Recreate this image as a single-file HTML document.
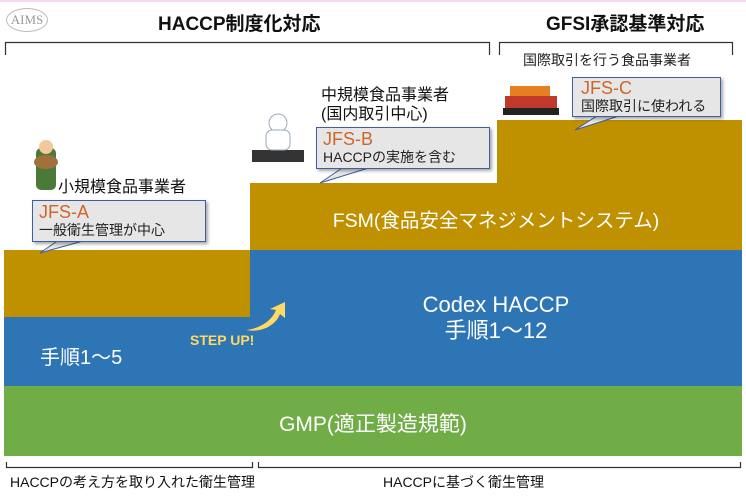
<!DOCTYPE html>
<html><head><meta charset="utf-8"><style>
body{margin:0;width:746px;height:497px;background:#fff;position:relative;overflow:hidden;font-family:"Liberation Sans","Noto Sans CJK JP",sans-serif;}
.a{position:absolute;white-space:nowrap;}
.box{position:absolute;background:#e6e6e6;border:1px solid #3f5f9f;box-shadow:2px 2px 3px rgba(0,0,0,.35);}
.j{color:#d0652a;font-size:18px;line-height:19px;}
.s{color:#222;font-size:14px;line-height:16px;}
</style></head><body>
<div class="a" style="left:0;top:0;width:746px;height:2px;background:#f6d6f2"></div>
<div class="a" style="left:6px;top:8px;width:40px;height:22px;border:1px solid #bbb;border-radius:50%;color:#999;font-family:'Liberation Serif',serif;font-size:13px;text-align:center;line-height:22px">AIMS</div>
<div class="a" style="left:158px;top:9px;font-size:19px;font-weight:bold;color:#111">HACCP制度化対応</div>
<div class="a" style="left:546px;top:9px;font-size:19px;font-weight:bold;color:#111">GFSI承認基準対応</div>
<svg class="a" style="left:0;top:0" width="746" height="497">
<path d="M5.5,55 V42.5 H489.5 V55" fill="none" stroke="#333" stroke-width="1.2"/>
<path d="M499.5,55 V42.5 H732.5 V55" fill="none" stroke="#333" stroke-width="1.2"/>
<path d="M6.5,462 V467.5 H252.5 V462" fill="none" stroke="#333" stroke-width="1.2"/>
<path d="M258.5,462 V467.5 H740.5 V462" fill="none" stroke="#333" stroke-width="1.2"/>
<rect x="4" y="250" width="246" height="67" fill="#bf9000"/>
<rect x="4" y="317" width="246" height="69" fill="#2e75b6"/>
<rect x="250" y="250" width="492" height="136" fill="#2e75b6"/>
<rect x="250" y="183" width="492" height="67" fill="#bf9000"/>
<rect x="497" y="120" width="245" height="63" fill="#bf9000"/>
<rect x="4" y="386" width="738" height="70" fill="#70ad47"/>
<path d="M246,330 C262,328 272,320 276,310 L270,309 L285,302 L285,318 L280,314 C276,325 262,333 246,330Z" fill="#ffd966"/>
<polygon points="60,239 40,253 90,239" fill="#e6e6e6" stroke="#3f5f9f"/>
<polygon points="345,166 320,183 375,166" fill="#e6e6e6" stroke="#3f5f9f"/>
<polygon points="600,114 575,130 625,114" fill="#e6e6e6" stroke="#3f5f9f"/>
<rect x="36" y="148" width="20" height="42" rx="5" fill="#4a7a3a"/>
<circle cx="46" cy="147" r="7" fill="#f3c89a"/>
<ellipse cx="46" cy="162" rx="12" ry="7" fill="#a0713a"/>
<rect x="252" y="150" width="52" height="12" fill="#333"/>
<circle cx="278" cy="123" r="9" fill="#fff" stroke="#9ab"/>
<rect x="266" y="130" width="24" height="20" rx="6" fill="#fff" stroke="#9ab"/>
<rect x="505" y="96" width="52" height="18" fill="#c0392b"/>
<rect x="510" y="86" width="40" height="10" fill="#e67e22"/>
<rect x="503" y="108" width="56" height="7" fill="#222"/>
</svg>
<div class="a" style="left:58px;top:173px;font-size:16px;color:#111">小規模食品事業者</div>
<div class="a" style="left:321px;top:86px;font-size:16px;color:#111;line-height:19px">中規模食品事業者<br>(国内取引中心)</div>
<div class="a" style="left:523px;top:50px;font-size:14px;color:#222">国際取引を行う食品事業者</div>
<div class="box" style="left:32px;top:200px;width:172px;height:40px"><div class="j" style="margin:2px 0 0 6px">JFS-A</div><div class="s" style="margin-left:6px">一般衛生管理が中心</div></div>
<div class="box" style="left:316px;top:127px;width:172px;height:40px"><div class="j" style="margin:2px 0 0 6px">JFS-B</div><div class="s" style="margin-left:6px">HACCPの実施を含む</div></div>
<div class="box" style="left:572px;top:77px;width:147px;height:38px"><div class="j" style="margin:1px 0 0 8px">JFS-C</div><div class="s" style="margin-left:8px">国際取引に使われる</div></div>
<div class="a" style="left:250px;width:492px;top:204px;text-align:center;font-size:19.5px;color:#fff">FSM(食品安全マネジメントシステム)</div>
<div class="a" style="left:250px;width:492px;top:292px;text-align:center;font-size:22px;color:#fff;line-height:26px">Codex HACCP<br>手順1～12</div>
<div class="a" style="left:40px;top:341px;font-size:20px;color:#fff">手順1～5</div>
<div class="a" style="left:190px;top:332px;font-size:14px;font-weight:bold;color:#ffd966">STEP UP!</div>
<div class="a" style="left:4px;width:738px;top:408px;text-align:center;font-size:21px;color:#fff">GMP(適正製造規範)</div>
<div class="a" style="left:10px;top:472px;font-size:14px;color:#111">HACCPの考え方を取り入れた衛生管理</div>
<div class="a" style="left:383px;top:472px;font-size:14px;color:#111">HACCPに基づく衛生管理</div>
</body></html>
